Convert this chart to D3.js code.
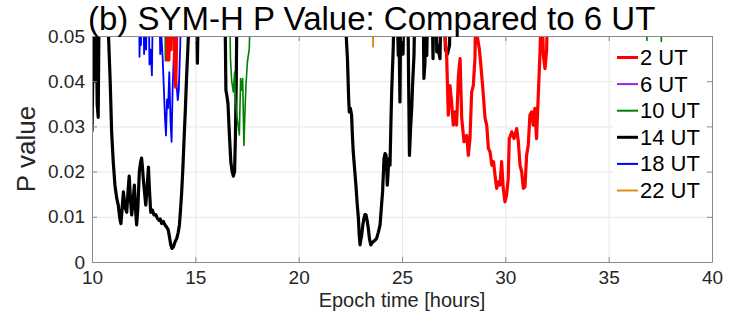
<!DOCTYPE html>
<html><head><meta charset="utf-8">
<script src="https://cdn.jsdelivr.net/npm/d3@7"></script>
<style>body{margin:0;background:#fff}svg{display:block}text{font-family:"Liberation Sans",Arial,sans-serif}</style>
</head><body><svg id="c" width="739" height="320"></svg>
<script>
// ---- data ----
const xTicks = [10, 15, 20, 25, 30, 35, 40];
const yTicks = [0, 0.01, 0.02, 0.03, 0.04, 0.05];
const yTickLabels = ["0", "0.01", "0.02", "0.03", "0.04", "0.05"];
const seriesNames = ["2 UT", "6 UT", "10 UT", "14 UT", "18 UT", "22 UT"];
const seriesColors = ["#ff0000", "#8a2be2", "#008000", "#000000", "#0000ff", "#e38a1d"];

const ut2 = [[13.62,0.06],[13.64,0.0447],[13.68,0.06],[13.72,0.0447],[13.78,0.06],[13.82,0.047],[13.86,0.06],[13.95,0.06],[14.0,0.044],[14.05,0.0387],[14.08,0.045],[14.12,0.06],
 [27.05,0.06],[27.08,0.05],[27.16,0.0457],[27.24,0.0325],[27.32,0.039],[27.4,0.0354],[27.48,0.0303],[27.56,0.0332],[27.64,0.0303],[27.73,0.0413],[27.81,0.045],[27.89,0.0318],[28.0,0.0266],[28.13,0.028],[28.21,0.0236],[28.29,0.0274],[28.37,0.0376],[28.45,0.039],[28.53,0.045],[28.58,0.06],[28.64,0.05],[28.74,0.0472],[28.8,0.0443],[28.9,0.039],[29.02,0.0318],[29.1,0.0303],[29.18,0.0251],[29.26,0.0244],[29.35,0.0214],[29.43,0.0222],[29.5,0.0192],[29.58,0.0163],[29.66,0.0177],[29.74,0.017],[29.82,0.0222],[29.9,0.0163],[29.98,0.0133],[30.06,0.0148],[30.14,0.0185],[30.19,0.0273],[30.31,0.0288],[30.42,0.0273],[30.55,0.0295],[30.63,0.0266],[30.71,0.0214],[30.79,0.02],[30.87,0.0163],[30.95,0.0166],[31.03,0.0236],[31.11,0.0259],[31.19,0.0325],[31.27,0.0332],[31.35,0.0303],[31.43,0.034],[31.51,0.0273],[31.6,0.0376],[31.68,0.0465],[31.76,0.06],[31.84,0.0457],[31.92,0.0428],[32.0,0.047],[32.05,0.06]];
const ut6 = [];
const ut10 = [[13.52,0.06],[13.55,0.0445],[13.6,0.047],[13.65,0.06],
 [16.65,0.06],[16.7,0.045],[16.76,0.04],[16.84,0.0376],[16.9,0.042],[16.96,0.035],[17.02,0.032],[17.08,0.03],[17.13,0.0281],[17.19,0.0406],[17.24,0.038],[17.29,0.0406],[17.35,0.0258],[17.4,0.033],[17.45,0.0391],[17.52,0.0443],[17.61,0.0472],[17.68,0.06],
 [36.8,0.06],[36.85,0.049],[36.9,0.06],[37.5,0.06],[37.55,0.0488],[37.6,0.06]];
const ut14 = [[10.0,0.0288],[10.05,0.045],[10.08,0.06],[10.15,0.04],[10.2,0.06],[10.25,0.035],[10.3,0.032],[10.35,0.06],[10.7,0.06],[10.8,0.05],[10.88,0.04],[10.95,0.0288],[11.03,0.022],[11.11,0.017],[11.2,0.014],[11.27,0.0126],[11.35,0.0095],[11.4,0.0085],[11.46,0.012],[11.52,0.0155],[11.6,0.012],[11.68,0.011],[11.75,0.016],[11.8,0.019],[11.86,0.014],[11.92,0.0104],[11.98,0.013],[12.05,0.017],[12.1,0.012],[12.16,0.0082],[12.22,0.012],[12.29,0.02],[12.35,0.022],[12.4,0.023],[12.44,0.021],[12.48,0.0185],[12.55,0.015],[12.6,0.0126],[12.66,0.016],[12.73,0.021],[12.78,0.016],[12.84,0.011],[12.92,0.0115],[13.0,0.0104],[13.08,0.0105],[13.16,0.0097],[13.25,0.0092],[13.3,0.0095],[13.37,0.0085],[13.45,0.009],[13.53,0.0082],[13.6,0.0078],[13.69,0.0071],[13.75,0.0055],[13.81,0.0038],[13.87,0.003],[13.94,0.0034],[14.02,0.0045],[14.1,0.0052],[14.17,0.0065],[14.23,0.0082],[14.29,0.012],[14.34,0.0155],[14.4,0.021],[14.45,0.0266],[14.52,0.034],[14.58,0.0413],[14.66,0.0495],[14.72,0.06],[15.05,0.06],[15.1,0.044],[15.15,0.06],
 [16.42,0.06],[16.45,0.05],[16.48,0.038],[16.52,0.037],[16.58,0.035],[16.65,0.028],[16.72,0.022],[16.78,0.02],[16.84,0.019],[16.9,0.02],[16.94,0.028],[16.98,0.04],[17.02,0.06],
 [22.2,0.06],[22.3,0.05],[22.36,0.045],[22.42,0.036],[22.45,0.0332],[22.5,0.034],[22.56,0.0325],[22.6,0.028],[22.64,0.0244],[22.7,0.021],[22.77,0.017],[22.83,0.013],[22.89,0.0097],[22.93,0.006],[22.97,0.0038],[23.01,0.005],[23.05,0.006],[23.1,0.008],[23.16,0.0097],[23.21,0.0105],[23.26,0.0104],[23.32,0.009],[23.37,0.0074],[23.43,0.005],[23.49,0.0038],[23.55,0.0042],[23.61,0.0045],[23.69,0.0048],[23.77,0.0052],[23.85,0.0065],[23.94,0.0082],[24.0,0.012],[24.06,0.0155],[24.13,0.0229],[24.18,0.024],[24.23,0.0236],[24.29,0.017],[24.33,0.02],[24.36,0.0229],[24.42,0.0214],[24.46,0.03],[24.5,0.0376],[24.58,0.048],[24.62,0.06],[24.75,0.06],[24.82,0.0457],[24.86,0.05],[24.9,0.0354],[24.95,0.06],[25.05,0.046],[25.1,0.06],[25.28,0.06],[25.32,0.04],[25.36,0.0236],[25.42,0.03],[25.47,0.034],[25.52,0.04],[25.58,0.0457],[25.63,0.06],[26.02,0.06],[26.06,0.0406],[26.11,0.044],[26.16,0.06],[26.2,0.0457],[26.25,0.06],[26.45,0.06],[26.5,0.045],[26.55,0.06],[26.65,0.06],[26.68,0.0465],[26.74,0.048],[26.8,0.046],[26.84,0.045],[26.9,0.06],[27.05,0.06],[27.1,0.047],[27.2,0.046],[27.3,0.048],[27.35,0.06]];
const ut18 = [[10.0,0.0497],[10.03,0.06],
 [12.27,0.06],[12.3,0.0454],[12.33,0.055],[12.37,0.048],[12.41,0.06],[12.48,0.06],[12.52,0.046],[12.56,0.05],[12.62,0.047],[12.66,0.06],[12.74,0.06],[12.78,0.0437],[12.84,0.047],[12.9,0.0413],[12.95,0.06],[13.25,0.06],[13.3,0.046],[13.36,0.05],[13.42,0.045],[13.48,0.038],[13.53,0.032],[13.58,0.028],[13.63,0.036],[13.68,0.034],[13.74,0.042],[13.8,0.031],[13.85,0.0266],[13.9,0.038],[13.96,0.046],[14.02,0.045],[14.08,0.04],[14.15,0.0358],[14.2,0.038],[14.27,0.048],[14.32,0.06]];
const ut22 = [[23.55,0.06],[23.6,0.0476],[23.63,0.06]];

const seriesData = [ut2, ut6, ut10, ut14, ut18, ut22];
const lineWidths = [3.2, 1.8, 1.6, 3.2, 1.8, 1.8];
const drawOrder = [3, 4, 2, 0, 5, 1];

// ---- layout ----
const L = 92, R = 712, T = 36, B = 262;
const svg = d3.select("#c");
const x = d3.scaleLinear().domain([10, 40]).range([L, R]);
const y = d3.scaleLinear().domain([0, 0.05]).range([B, T]);
const axisCol = "#8a8a8a", textCol = "#262626", gridCol = "#e6e6e6";

// grid
svg.append("g").attr("transform", `translate(0,${B})`)
  .call(d3.axisBottom(x).tickValues(xTicks).tickSize(-(B - T)).tickFormat(""))
  .call(g => { g.select(".domain").remove(); g.selectAll("line").attr("stroke", gridCol); });
svg.append("g").attr("transform", `translate(${L},0)`)
  .call(d3.axisLeft(y).tickValues(yTicks).tickSize(-(R - L)).tickFormat(""))
  .call(g => { g.select(".domain").remove(); g.selectAll("line").attr("stroke", gridCol); });

// lines
svg.append("clipPath").attr("id", "clip").append("rect")
  .attr("x", L).attr("y", T).attr("width", R - L).attr("height", B - T);
const line = d3.line().x(d => x(d[0])).y(d => y(d[1]));
const lg = svg.append("g").attr("clip-path", "url(#clip)");
drawOrder.forEach(i => {
  if (seriesData[i].length) lg.append("path").datum(seriesData[i])
    .attr("d", line).attr("fill", "none").attr("stroke", seriesColors[i])
    .attr("stroke-width", lineWidths[i]).attr("stroke-linejoin", "round");
});

// legend
const legX = 613, legY = 43;
svg.append("rect").attr("x", legX).attr("y", legY).attr("width", R - legX).attr("height", 162).attr("fill", "#fff");
seriesNames.forEach((n, i) => {
  const by = 65 + i * 26.6;
  svg.append("line").attr("x1", 617).attr("x2", 638).attr("y1", by - 7.5).attr("y2", by - 7.5)
    .attr("stroke", seriesColors[i]).attr("stroke-width", lineWidths[i] > 2 ? 3 : 2);
  svg.append("text").attr("x", 640).attr("y", by).attr("font-size", 22).attr("fill", "#000").text(n);
});

// axes
function styleAxis(g) { g.selectAll(".domain").attr("stroke", axisCol); g.selectAll(".tick line").attr("stroke", axisCol); g.selectAll("text").attr("fill", textCol).attr("font-family", '"Liberation Sans",Arial,sans-serif'); }
svg.append("g").attr("transform", `translate(0,${B})`)
  .call(d3.axisBottom(x).tickValues(xTicks).tickSizeInner(-5).tickSizeOuter(0).tickPadding(9).tickFormat(d3.format("d")))
  .attr("font-size", 19).call(styleAxis);
svg.append("g").attr("transform", `translate(0,${T})`)
  .call(d3.axisTop(x).tickValues(xTicks).tickSizeInner(-5).tickSizeOuter(0).tickFormat(""))
  .call(styleAxis);
svg.append("g").attr("transform", `translate(${L},0)`)
  .call(d3.axisLeft(y).tickValues(yTicks).tickSizeInner(-5).tickSizeOuter(0).tickPadding(7).tickFormat((d, i) => yTickLabels[i]))
  .attr("font-size", 19).call(styleAxis);
svg.append("g").attr("transform", `translate(${R},0)`)
  .call(d3.axisRight(y).tickValues(yTicks).tickSizeInner(-5).tickSizeOuter(0).tickFormat(""))
  .call(styleAxis);

// labels
svg.append("text").attr("x", 88).attr("y", 30).attr("font-size", 33).attr("fill", "#000")
  .text("(b) SYM-H P Value: Compared to 6 UT");
svg.append("text").attr("transform", "translate(35,149) rotate(-90)").attr("text-anchor", "middle")
  .attr("font-size", 26).attr("fill", textCol).text("P value");
svg.append("text").attr("x", (L + R) / 2).attr("y", 307).attr("text-anchor", "middle")
  .attr("font-size", 20).attr("fill", textCol).text("Epoch time [hours]");
</script></body></html>
